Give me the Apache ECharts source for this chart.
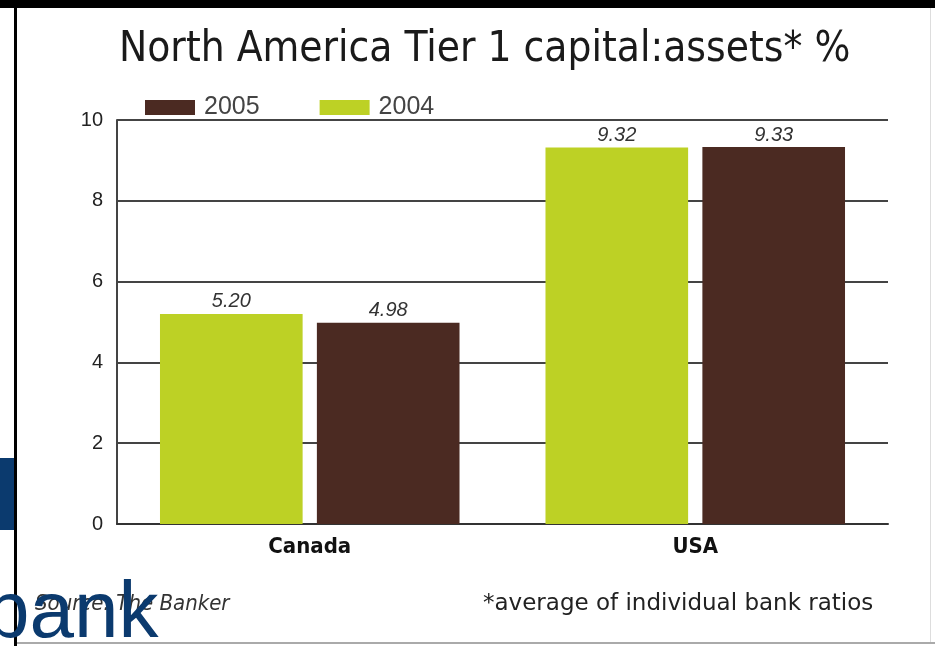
<!DOCTYPE html>
<html>
<head>
<meta charset="utf-8">
<script src="https://cdn.jsdelivr.net/npm/echarts@6/dist/echarts.min.js"></script>
<style>
  html, body { margin: 0; padding: 0; background: #fff; }
  #chart { width: 935px; height: 646px; }
</style>
</head>
<body>
<div id="chart"></div>
<script>
// data
const categories = ['Canada', 'USA'];
const values2004 = [5.20, 9.32];
const values2005 = [4.98, 9.33];
const yTicks = [0, 2, 4, 6, 8, 10];

const green = '#bdd125';
const brown = '#4b2a22';
const condensed = '"DejaVu Sans Condensed", "DejaVu Sans", sans-serif';

const myChart = echarts.init(document.getElementById('chart'));

//数据标签
const barLabel = {
    show: true,
    position: 'top',
    distance: 2,
    color: '#333',
    fontStyle: 'italic',
    fontFamily: 'Liberation Sans, sans-serif',
    fontSize: 20,
    formatter: (p) => p.value.toFixed(2)
};

myChart.setOption({
    animation: false,
    backgroundColor: '#fff',
    title: {
        text: 'North America Tier 1 capital:assets* %',
        left: 114,
        top: 24,
        textStyle: {
            fontFamily: condensed,
            fontWeight: 'normal',
            fontSize: 42,
            color: '#1a1a1a'
        }
    },
    legend: {
        left: 140,
        top: 90,
        icon: 'rect',
        itemWidth: 50,
        itemHeight: 15,
        itemGap: 60,
        data: ['2005', '2004'],
        textStyle: {
            fontFamily: 'Liberation Sans, sans-serif',
            fontSize: 25,
            color: '#444',
            padding: [0, 0, 0, 4]
        }
    },
    grid: { left: 117, right: 47, top: 120, bottom: 122 },
    xAxis: {
        type: 'category',
        data: categories,
        axisTick: { show: false },
        axisLine: { lineStyle: { color: '#333', width: 2 } },
        axisLabel: {
            margin: 12,
            color: '#111',
            fontWeight: 'bold',
            fontFamily: condensed,
            fontSize: 22
        }
    },
    yAxis: {
        type: 'value',
        min: yTicks[0],
        max: yTicks[yTicks.length - 1],
        interval: 2,
        axisLine: { show: true, lineStyle: { color: '#444', width: 2 } },
        axisTick: { show: false },
        splitLine: { lineStyle: { color: '#444', width: 2 } },
        axisLabel: {
            margin: 14,
            color: '#222',
            fontFamily: 'Liberation Sans, sans-serif',
            fontSize: 20
        }
    },
    series: [
        {
            name: '2004',
            type: 'bar',
            data: values2004,
            barWidth: '37%',
            barGap: '10%',
            itemStyle: { color: green },
            label: barLabel
        },
        {
            name: '2005',
            type: 'bar',
            data: values2005,
            barWidth: '37%',
            itemStyle: { color: brown },
            label: barLabel
        }
    ],
    graphic: [
        // 外框
        { type: 'rect', shape: { x: 0, y: 0, width: 935, height: 8 }, style: { fill: '#000' } },
        { type: 'rect', shape: { x: 14, y: 0, width: 3, height: 646 }, style: { fill: '#000' } },
        { type: 'rect', shape: { x: 17, y: 642, width: 918, height: 2 }, style: { fill: '#aaa' } },
        { type: 'rect', shape: { x: 930, y: 8, width: 1, height: 634 }, style: { fill: '#ddd' } },
        { type: 'rect', shape: { x: 0, y: 458, width: 14, height: 72 }, style: { fill: '#0b3a6e' } },
        {
            type: 'text', left: 35, top: 593,
            style: {
                text: 'Source: The Banker',
                fill: '#333',
                font: 'italic 22px ' + condensed
            }
        },
        {
            type: 'text', left: 483, top: 593,
            style: {
                text: '*average of individual bank ratios',
                fill: '#222',
                font: '23px "DejaVu Sans", sans-serif'
            }
        },
        {
            type: 'text', left: -15, top: 575,
            style: {
                text: 'bank',
                fill: '#0b3a6e',
                font: '80px "Liberation Sans", Arial, sans-serif'
            }
        }
    ]
});
</script>
</body>
</html>
